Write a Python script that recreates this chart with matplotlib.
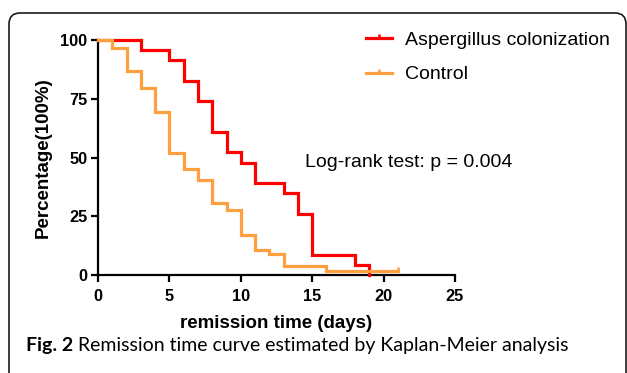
import matplotlib
matplotlib.use("Agg")
import matplotlib.pyplot as plt
from matplotlib.lines import Line2D
from matplotlib.patches import FancyBboxPatch
from matplotlib.transforms import IdentityTransform
from matplotlib.path import Path

# ---------------- data ----------------
asp_time = [0, 3, 5, 6, 7, 8, 9, 10, 11, 13, 14, 15, 18, 19]
asp_surv = [100, 95.65, 91.3, 82.6, 73.9, 60.9, 52.2, 47.8, 39.1, 34.8, 26.1, 8.7, 4.35, 0]
ctl_time = [0, 1, 2, 3, 4, 5, 6, 7, 8, 9, 10, 11, 12, 13, 16, 21]
ctl_surv = [100, 96.5, 86.8, 79.4, 69.5, 51.8, 45.1, 40.4, 30.5, 27.7, 17.0, 10.6, 8.9, 3.8, 1.5, 1.5]
ctl_censor_time = [21]
ctl_censor_surv = [1.5]

series_names = ["Aspergillus colonization", "Control"]
x_ticks = [0, 5, 10, 15, 20, 25]
y_ticks = [0, 25, 50, 75, 100]
x_label = "remission time (days)"
y_label = "Percentage(100%)"
annot = "Log-rank test: p = 0.004"
caption_bold = "Fig. 2"
caption_rest = " Remission time curve estimated by Kaplan-Meier analysis"

RED = "#FF0000"
ORANGE = "#FFA040"

plt.rcParams["font.family"] = ["Liberation Sans", "DejaVu Sans"]

W, H = 627, 373
fig = plt.figure(figsize=(W / 100, H / 100), dpi=100)
fig.patch.set_facecolor("white")

# axes placed in pixel terms
x0, x1 = 98, 455
yt, yb = 40, 275
ax = fig.add_axes([x0 / W, 1 - yb / H, (x1 - x0) / W, (yb - yt) / H])
ax.set_xlim(0, 25)
ax.set_ylim(0, 100)
ax.patch.set_alpha(0)

tick_path = Path([(0, 0), (0, 1)], [Path.MOVETO, Path.LINETO])

ax.step(asp_time, asp_surv, where="post", color=RED, lw=2.3, clip_on=False, zorder=3,
        solid_joinstyle="miter")
ax.step(ctl_time, ctl_surv, where="post", color=ORANGE, lw=2.3, clip_on=False, zorder=4,
        solid_joinstyle="miter")
ax.plot(ctl_censor_time, ctl_censor_surv, ls="none", marker=tick_path, ms=6, mew=1.8,
        color=ORANGE, clip_on=False, zorder=4)

for s in ["top", "right"]:
    ax.spines[s].set_visible(False)
for s in ["left", "bottom"]:
    ax.spines[s].set_linewidth(1.6)
    ax.spines[s].set_zorder(2)
ax.set_xticks(x_ticks)
ax.set_yticks(y_ticks)
ax.tick_params(axis="both", length=5, width=1.6, labelsize=11.8)
ax.tick_params(axis="y", pad=2.5)
ax.tick_params(axis="x", pad=5)
for lab in ax.get_xticklabels() + ax.get_yticklabels():
    lab.set_fontweight("bold")

ax.set_xlabel(x_label, fontsize=13.5, fontweight="bold", labelpad=8)
ax.set_ylabel(y_label, fontsize=13.5, fontweight="bold", labelpad=6)

ax.text(14.5, 48, annot, fontsize=14, va="center", ha="left", clip_on=False)

handles = [
    Line2D([], [], color=RED, lw=2.3, marker=tick_path, ms=6, mew=1.8),
    Line2D([], [], color=ORANGE, lw=2.3, marker=tick_path, ms=6, mew=1.8),
]
fig.legend(handles, series_names, loc="upper left",
           bbox_to_anchor=(366 / W, 1 - 31 / H), frameon=False, fontsize=14,
           handlelength=1.35, handletextpad=0.65, labelspacing=0.88,
           borderpad=0, borderaxespad=0, numpoints=1)

# frame
frame = FancyBboxPatch((9, -30), 617, 360 + 30, boxstyle="round,pad=0,rounding_size=11",
                       transform=IdentityTransform(), fill=False, lw=1.2,
                       edgecolor="#1a1a1a", zorder=0)
fig.patches.append(frame)

# caption, fitted to reference width
cap_x, cap_base, cap_w = 26, H - 351, 542
cfam = ["Lato", "DejaVu Sans"]
fs = 11
t1 = fig.text(cap_x / W, cap_base / H, caption_bold, fontsize=fs, fontweight="bold",
              family=cfam, va="baseline", ha="left")
t2 = fig.text(0, cap_base / H, caption_rest, fontsize=fs, family=cfam,
              va="baseline", ha="left")
r = fig.canvas.get_renderer()
tot = t1.get_window_extent(r).width + t2.get_window_extent(r).width
fs = fs * cap_w / tot
t1.set_fontsize(fs)
t2.set_fontsize(fs)
w1 = t1.get_window_extent(r).width
t2.set_x((cap_x + w1) / W)

fig.savefig("out.png", dpi=100, facecolor="white")
